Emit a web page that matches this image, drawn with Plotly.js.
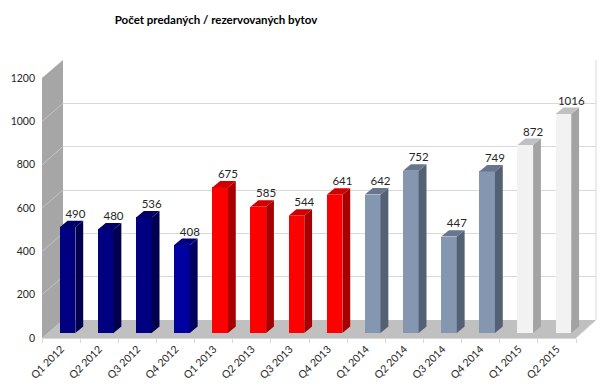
<!DOCTYPE html>
<html>
<head>
<meta charset="utf-8">
<script src="https://cdn.plot.ly/plotly-3.0.1.min.js"></script>
<style>html,body{margin:0;padding:0;background:#fff;}#chart{width:610px;height:391px;}</style>
</head>
<body>
<div id="chart"></div>
<script>
// ---- data ----
const categories = ['Q1 2012','Q2 2012','Q3 2012','Q4 2012','Q1 2013','Q2 2013','Q3 2013','Q4 2013','Q1 2014','Q2 2014','Q3 2014','Q4 2014','Q1 2015','Q2 2015'];
const values = [490, 480, 536, 408, 675, 585, 544, 641, 642, 752, 447, 749, 872, 1016];
const yTicks = [0, 200, 400, 600, 800, 1000, 1200];
const titleText = 'Počet predaných / rezervovaných bytov';

// ---- styles ----
const frontColors = ['#000080','#000080','#000080','#0000a0','#ff0000','#ff0000','#ff0000','#ff0000','#8496b0','#8496b0','#8496b0','#8496b0','#f2f2f2','#f2f2f2'];
const sideColors  = ['#00004e','#00004e','#00004e','#00005e','#a80000','#a80000','#a80000','#a80000','#546074','#546074','#546074','#546074','#a3a3a3','#a3a3a3'];
const topColors   = ['#000068','#000068','#000068','#000080','#d00000','#d00000','#d00000','#d00000','#67768c','#67768c','#67768c','#67768c','#c0c0c0','#c0c0c0'];

const W = 610, H = 391;
const px = x => x / W;
const py = y => 1 - y / H;

// geometry (pixels)
const back = {x0: 63, x1: 596, yTop: 60, yBot: 320};
const front = {x0: 42, x1: 576, yTop: 78, yBot: 338};
const bars = {x0: 48.5, x1: 582.5, yTop: 74.2, yBot: 333};

const yMax = 1200;
const barW = 0.41;     // category units
const dxCat = 0.205;   // depth offset in category units
const dyVal = 30;      // depth offset in value units

const idx = categories.map((_, i) => i);
const traces = [];

// dummy trace so that the back-wall subplot exists
traces.push({x: idx, y: idx.map(() => null), xaxis: 'x', yaxis: 'y', mode: 'lines', hoverinfo: 'skip', showlegend: false});

// side & top faces computed from data
values.forEach((v, i) => {
  const xl = i - barW / 2, xr = i + barW / 2;
  traces.push({
    x: [xr, xr + dxCat, xr + dxCat, xr, xr],
    y: [0, dyVal, v + dyVal, v, 0],
    xaxis: 'x2', yaxis: 'y2', mode: 'lines', fill: 'toself',
    fillcolor: sideColors[i], line: {width: 0, color: sideColors[i]},
    hoverinfo: 'skip', showlegend: false
  });
  traces.push({
    x: [xl, xl + dxCat, xr + dxCat, xr, xl],
    y: [v, v + dyVal, v + dyVal, v, v],
    xaxis: 'x2', yaxis: 'y2', mode: 'lines', fill: 'toself',
    fillcolor: topColors[i], line: {width: 0, color: topColors[i]},
    hoverinfo: 'skip', showlegend: false
  });
});

// front faces
traces.push({
  type: 'bar', x: idx, y: values, width: barW,
  marker: {color: frontColors, line: {width: 0}},
  xaxis: 'x2', yaxis: 'y2', hoverinfo: 'skip', showlegend: false
});

// value labels
traces.push({
  x: idx.map(i => i + dxCat), y: values.map(v => v + dyVal),
  text: values.map(String), mode: 'text', textposition: 'top center',
  textfont: {family: 'Lato, sans-serif', size: 11.5, color: '#262626'},
  xaxis: 'x2', yaxis: 'y2', cliponaxis: false, hoverinfo: 'skip', showlegend: false
});

// front axis dummy
traces.push({x: categories, y: categories.map(() => null), xaxis: 'x3', yaxis: 'y3', mode: 'lines', hoverinfo: 'skip', showlegend: false});

// decorative walls
const shapes = [];
shapes.push({type: 'path', xref: 'paper', yref: 'paper', layer: 'below',
  path: `M ${px(front.x0)},${py(front.yBot)} L ${px(back.x0)},${py(back.yBot)} L ${px(back.x1)},${py(back.yBot)} L ${px(front.x1)},${py(front.yBot)} Z`,
  fillcolor: '#c0c0c0', line: {width: 0}});
shapes.push({type: 'path', xref: 'paper', yref: 'paper', layer: 'below',
  path: `M ${px(front.x0)},${py(front.yTop)} L ${px(back.x0)},${py(back.yTop)} L ${px(back.x0)},${py(back.yBot)} L ${px(front.x0)},${py(front.yBot)} Z`,
  fillcolor: '#a6a6a6', line: {width: 0}});
yTicks.slice(1, -1).forEach(t => {
  const yf = front.yBot - t * (front.yBot - front.yTop) / yMax;
  const yb = back.yBot - t * (back.yBot - back.yTop) / yMax;
  shapes.push({type: 'line', xref: 'paper', yref: 'paper', layer: 'below',
    x0: px(front.x0), y0: py(yf), x1: px(back.x0), y1: py(yb), line: {color: '#c4c4c4', width: 1}});
});
shapes.push({type: 'line', xref: 'paper', yref: 'paper', layer: 'below',
  x0: px(back.x1), y0: py(back.yTop), x1: px(back.x1), y1: py(back.yBot), line: {color: '#d9d9d9', width: 1}});
shapes.push({type: 'line', xref: 'paper', yref: 'paper', layer: 'below',
  x0: px(front.x1), y0: py(front.yBot), x1: px(back.x1), y1: py(back.yBot), line: {color: '#d9d9d9', width: 1}});

const layout = {
  width: W, height: H,
  margin: {l: 0, r: 0, t: 0, b: 0},
  paper_bgcolor: '#ffffff', plot_bgcolor: 'rgba(0,0,0,0)',
  showlegend: false,
  font: {family: 'Lato, sans-serif', color: '#262626'},
  title: {text: '<b>' + titleText + '</b>', x: px(216), xanchor: 'center', y: py(20), yanchor: 'middle',
    font: {family: 'Lato, sans-serif', size: 11.5, color: '#000000'}},
  bargap: 0,
  xaxis: {domain: [px(back.x0), px(back.x1)], range: [-0.5, 13.5], showgrid: false, zeroline: false,
    showticklabels: false, showline: false, ticks: '', anchor: 'y', fixedrange: true},
  yaxis: {domain: [py(back.yBot), py(back.yTop)], range: [0, yMax], tickvals: yTicks, showgrid: true,
    gridcolor: '#d9d9d9', gridwidth: 1, zeroline: false, showticklabels: false, ticks: '',
    showline: false, anchor: 'x', fixedrange: true},
  xaxis2: {domain: [px(bars.x0), px(bars.x1)], range: [-0.5, 13.5], visible: false, anchor: 'y2', fixedrange: true},
  yaxis2: {domain: [py(bars.yBot), py(bars.yTop)], range: [0, yMax], visible: false, anchor: 'x2', fixedrange: true},
  xaxis3: {domain: [px(front.x0), px(front.x1)], type: 'category', categoryarray: categories,
    range: [-0.5, 13.5], tickson: 'boundaries', ticks: 'outside', ticklen: 4, tickcolor: '#d9d9d9',
    tickangle: -45, showline: true, linecolor: '#d9d9d9', linewidth: 1, showgrid: false, zeroline: false,
    tickfont: {family: 'Lato, sans-serif', size: 10.5, color: '#262626'}, anchor: 'y3', fixedrange: true},
  yaxis3: {domain: [py(front.yBot), py(front.yTop)], range: [0, yMax], tickvals: yTicks,
    ticktext: yTicks.map(String), showgrid: false, zeroline: false, showline: false, ticks: '',
    ticklabelstandoff: 6, tickfont: {family: 'Lato, sans-serif', size: 10.5, color: '#262626'},
    anchor: 'x3', fixedrange: true},
  shapes: shapes
};

Plotly.newPlot('chart', traces, layout, {displayModeBar: false, staticPlot: true});
</script>
</body>
</html>
